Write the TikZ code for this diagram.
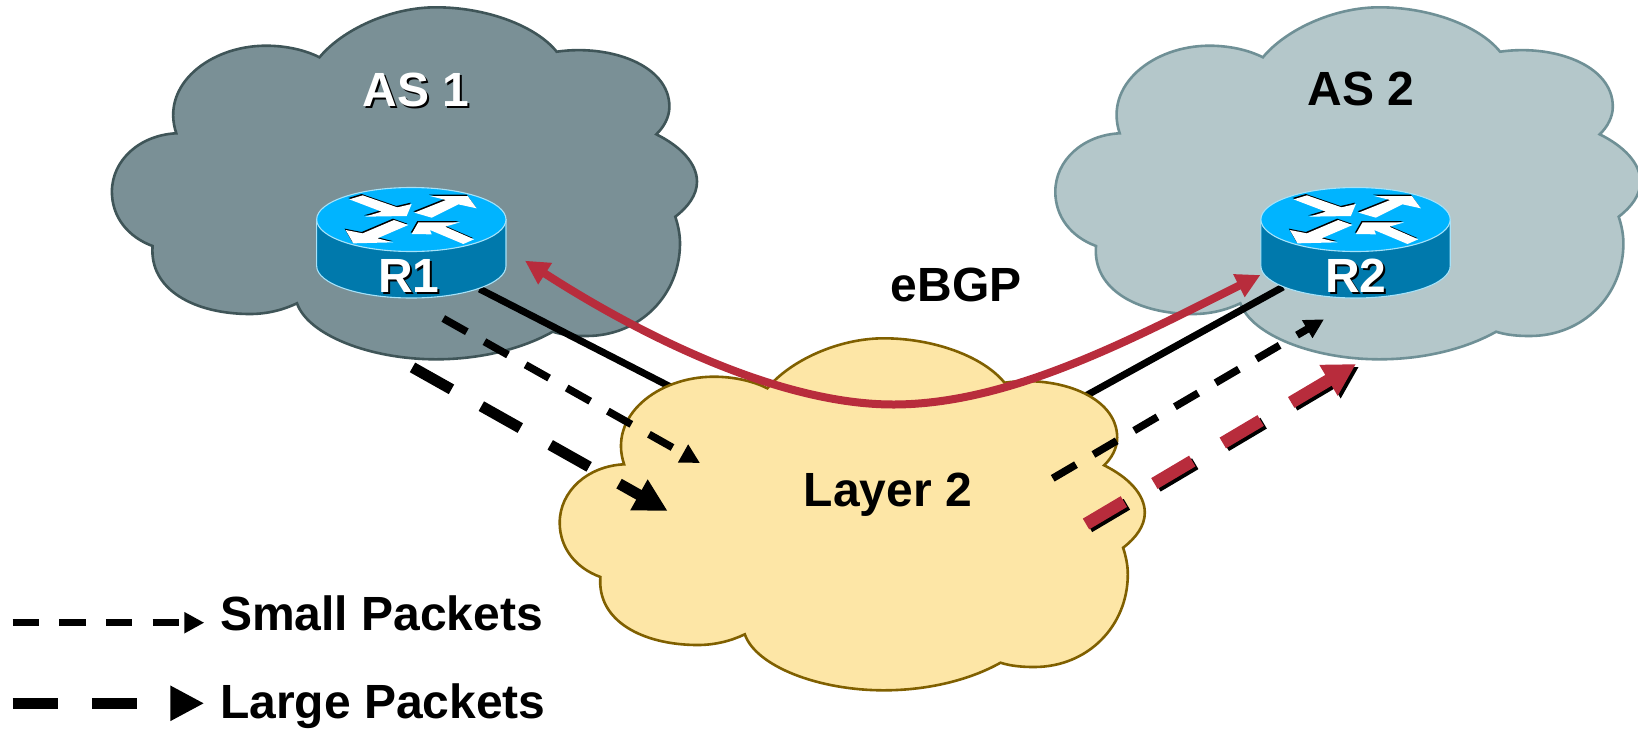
\documentclass[tikz,border=0pt]{standalone}
\usepackage{fontspec}
\setmainfont{Liberation Sans}
\usetikzlibrary{arrows.meta}
\definecolor{cloudA}{HTML}{7A9096}
\definecolor{cloudAe}{HTML}{3F5558}
\definecolor{cloudB}{HTML}{B4C7CA}
\definecolor{cloudBe}{HTML}{6F9096}
\definecolor{cloudC}{HTML}{FDE6A6}
\definecolor{cloudCe}{HTML}{806000}
\definecolor{rtop}{HTML}{00B4FF}
\definecolor{rside}{HTML}{0079AC}
\definecolor{redl}{HTML}{B82C3C}
\newcommand{\cloudshape}{
 (176.3,133.3) .. controls (160,85) and (210,45.7) .. (266,45.7)
 .. controls (286,45.7) and (305,50) .. (319.5,57.3)
 .. controls (342,30) and (390,7.3) .. (436,7.3)
 .. controls (485,7.3) and (535,25) .. (556.7,51.7)
 .. controls (610,44) and (669.4,65) .. (669.4,106.7)
 .. controls (669.4,117) and (664,127) .. (656.3,134.3)
 .. controls (680,146) and (697,163) .. (697,181.7)
 .. controls (697,195) and (688,207) .. (675.3,216.7)
 .. controls (678,225) and (680,234) .. (680,243.3)
 .. controls (680,295) and (640,336) .. (586.4,336)
 .. controls (574,336) and (563,335) .. (552.7,331.7)
 .. controls (522,349) and (480,359.3) .. (436,359.3)
 .. controls (370,359.3) and (308,335) .. (297,303.3)
 .. controls (283,310) and (267,314) .. (250,314)
 .. controls (195,314) and (149,290) .. (152.6,246)
 .. controls (128,237) and (111.9,217) .. (111.9,191.7)
 .. controls (111.9,160) and (140,135) .. (176.3,133.3) -- cycle}
\newcommand{\routerbody}{
 \path[rface,fill=rside] (80,148.5) -- (80,288) .. controls (80,341) and (207,384) .. (364,384)
   .. controls (521,384) and (648,341) .. (648,288) -- (648,148.5) -- cycle;
 \path[rface,fill=rtop] (364,52.5) .. controls (521,52.5) and (648,95) .. (648,148.5)
   .. controls (648,202) and (521,244.5) .. (364,244.5)
   .. controls (207,244.5) and (80,202) .. (80,148.5)
   .. controls (80,95) and (207,52.5) .. (364,52.5) -- cycle;
 \foreach \c/\o in {black/{-3,-4},white/{0,0}}{
  \begin{scope}[shift={(\o)}]
  \fill[\c] (178,88)--(218,76)--(322,112)--(365,102)--(350,138)--(225,140)--(275,125)--cycle;
  \fill[\c] (373,128)--(468,90)--(420,78)--(533,78)--(560,115)--(505,103)--(425,143)--cycle;
  \fill[\c] (167,180)--(218,190)--(312,150)--(355,165)--(262,205)--(310,217)--(190,220)--cycle;
  \fill[\c] (385,157)--(510,157)--(465,170)--(552,208)--(520,222)--(420,180)--(425,193)--(365,192)--cycle;
  \end{scope}}
}
\tikzset{
 cloudfill/.style={line width=2.6pt},
 rface/.style={draw=cyan!35!white,line width=1.1pt},
 label/.style={font=\bfseries\fontsize{48}{50}\selectfont,inner sep=0pt,anchor=base},
 llabel/.style={font=\bfseries\fontsize{48}{50}\selectfont,inner sep=0pt,anchor=base west},
 link/.style={line width=7pt,black},
 smalld/.style={line width=7.5pt,black,dash pattern=on 27pt off 20.2pt,-{Triangle[length=19.5pt,width=19.5pt]}},
 larged/.style={line width=11pt,black,dash pattern=on 44.7pt off 34.3pt,-{Triangle[length=33pt,width=33pt]}},
 redlarge/.style={line width=12.5pt,dash pattern=on 44pt off 35.5pt,-{Triangle[length=32pt,width=33.5pt]}},
 bgp/.style={line width=8pt,redl,{Triangle[length=24pt,width=24pt]}-{Triangle[length=24pt,width=24pt]}}
}
\begin{document}
\begin{tikzpicture}[x=1pt,y=-1pt]
\useasboundingbox (0,0) rectangle (1638,732);
\fill[white] (0,0) rectangle (1638,732);
% clouds
\path[cloudfill,fill=cloudA,draw=cloudAe] \cloudshape;
\path[cloudfill,fill=cloudB,draw=cloudBe,shift={(943.4,0)}] \cloudshape;
% anchor points
\coordinate (r1link) at (479.6,289);
\coordinate (l2linkL) at (700,402);
\coordinate (r2link) at (1283,287);
\coordinate (l2linkR) at (1060,410);
\coordinate (r1bgp) at (525,260.7);
\coordinate (midbgp) at (894.4,404.5);
\coordinate (r2bgp) at (1260.4,275);
\draw[link] (r1link) -- (l2linkL);
\draw[link] (r2link) -- (l2linkR);
\path[cloudfill,fill=cloudC,draw=cloudCe,shift={(447.8,331)}] \cloudshape;
% routers
\begin{scope}[shift={(290,170)},x=0.33333pt,y=-0.33333pt]\routerbody\end{scope}
\begin{scope}[shift={(1234.2,170)},x=0.33333pt,y=-0.33333pt]\routerbody\end{scope}
% labels
\node[label,black] (as1s) at (418,108) {AS 1};
\node[label,white] (as1) at (416,106) {AS 1};
\node[label,black] (as2) at (1361,105) {AS 2};
\node[label,black] (r1s) at (411,294) {R1};
\node[label,white] (r1) at (409,292) {R1};
\node[label,black] (r2s) at (1358,294.5) {R2};
\node[label,white] (r2) at (1356,292.5) {R2};
\node[label,black] (ebgp) at (956,301) {eBGP};
\node[label,black] (l2) at (888,506.5) {Layer 2};
% BGP session
\draw[bgp] (r1bgp) .. controls (640,335) and (780,405) .. (midbgp)
  .. controls (1010,404) and (1130,340) .. (r2bgp);
% packet flows
\coordinate (sl0) at (443.3,318.5); \coordinate (sl1) at (700,463);
\coordinate (ll0) at (412.5,367.4); \coordinate (ll1) at (667.7,511);
\coordinate (sr0) at (1052.7,478.3); \coordinate (sr1) at (1324,319.3);
\coordinate (lr0) at (1086,524); \coordinate (lr1) at (1356,364);
\draw[smalld] (sl0) -- (sl1);
\draw[larged] (ll0) -- (ll1);
\draw[smalld] (sr0) -- (sr1);
\draw[redlarge,black] ([shift={(3,2.7)}]lr0) -- ([shift={(3,2.7)}]lr1);
\draw[redlarge,redl] (lr0) -- (lr1);
% legend
\coordinate (k1a) at (12.5,622.7); \coordinate (k1b) at (204.3,622.7);
\coordinate (k2a) at (12.5,703.3); \coordinate (k2b) at (204.3,703.3);
\draw[line width=7.5pt,dash pattern=on 26.3pt off 20.4pt,-{Triangle[length=20pt,width=20pt]}] (k1a) -- (k1b);
\draw[line width=11.5pt,dash pattern=on 45.4pt off 34pt,-{Triangle[length=34pt,width=33pt]}] (k2a) -- (k2b);
\node[llabel] (small) at (220,630) {Small Packets};
\node[llabel] (large) at (220,718) {Large Packets};
\end{tikzpicture}
\end{document}
